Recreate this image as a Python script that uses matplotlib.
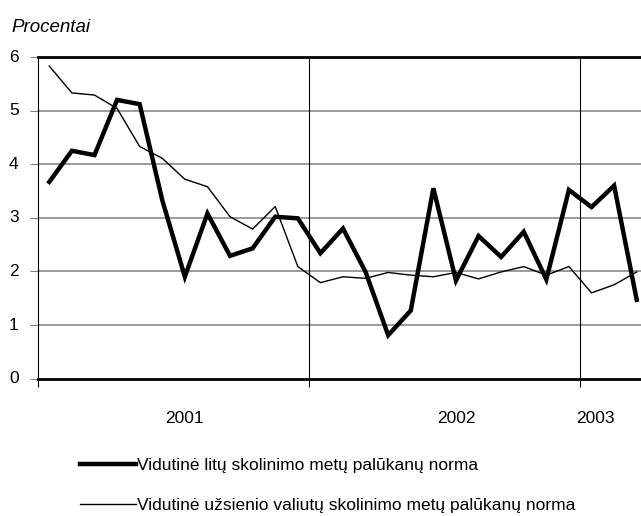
import matplotlib
matplotlib.use("Agg")
import matplotlib.pyplot as plt
from matplotlib.lines import Line2D

plt.rcParams['font.family'] = ['Liberation Sans', 'DejaVu Sans']

# monthly data, Jan 2001 .. Mar 2003
year_labels = ['2001', '2002', '2003']
year_label_pos = [6, 18, 24.15]
year_bounds = [-0.5, 11.5, 23.5]

litu = [3.67, 4.25, 4.17, 5.20, 5.12, 3.33, 1.90, 3.08, 2.29, 2.43, 3.02, 2.99,
        2.34, 2.80, 1.99, 0.81, 1.27, 3.55, 1.83, 2.66, 2.27, 2.74, 1.85, 3.52,
        3.20, 3.60, 1.47]
valiutu = [5.83, 5.33, 5.29, 5.04, 4.33, 4.11, 3.72, 3.58, 3.02, 2.79, 3.21, 2.09,
           1.79, 1.90, 1.87, 1.98, 1.93, 1.90, 1.98, 1.86, 1.99, 2.09, 1.93, 2.09,
           1.60, 1.75, 1.99]
months = list(range(len(litu)))

label_litu = 'Vidutinė litų skolinimo metų palūkanų norma'
label_val = 'Vidutinė užsienio valiutų skolinimo metų palūkanų norma'

fs = 12.5

fig = plt.figure(figsize=(6.41, 5.16), dpi=100)
# right side of the plot area is cut off by the figure edge, like the original
ax = fig.add_axes([38 / 641, (516 - 378.6) / 516, 610 / 641, 321.6 / 516])

ax.plot(months, valiutu, color='black', lw=1.0, zorder=3)
ax.plot(months, litu, color='black', lw=3.2, zorder=4, solid_joinstyle='miter')

ax.set_xlim(-0.5, 26.5)
ax.set_ylim(0, 6)

# horizontal gridlines
for v in range(1, 6):
    ax.axhline(v, color='#808080', lw=1.1, zorder=1)

ax.set_yticks(range(0, 7))
ax.tick_params(axis='y', length=6, width=0.8, color='#808080', pad=8, labelsize=fs)
for lbl in ax.get_yticklabels():
    lbl.set_verticalalignment('center')

ax.set_xticks(year_bounds)
ax.set_xticklabels([])
ax.tick_params(axis='x', which='major', length=6, width=0.8, color='black')
ax.set_xticks(year_label_pos, minor=True)
ax.set_xticklabels(year_labels, minor=True)
ax.tick_params(axis='x', which='minor', length=0, pad=23, labelsize=fs)
for xb in year_bounds[1:]:
    ax.axvline(xb, color='black', lw=0.8, zorder=2)

ax.spines['right'].set_visible(False)
ax.spines['left'].set_linewidth(0.8)
ax.spines['bottom'].set_linewidth(2.0)
ax.spines['top'].set_linewidth(2.0)

fig.text(11 / 641, 1 - 32 / 516, 'Procentai', fontsize=13.5, style='italic', va='baseline')

handles = [Line2D([], [], color='black', lw=3.2),
           Line2D([], [], color='black', lw=1.0)]
fig.legend(handles, [label_litu, label_val], loc='upper left',
           bbox_to_anchor=(80 / 641, 1 - 458 / 516), frameon=False, fontsize=fs,
           handlelength=3.2, handletextpad=0.08, labelspacing=1.45,
           borderpad=0, borderaxespad=0)

fig.savefig('out.png', dpi=100)
